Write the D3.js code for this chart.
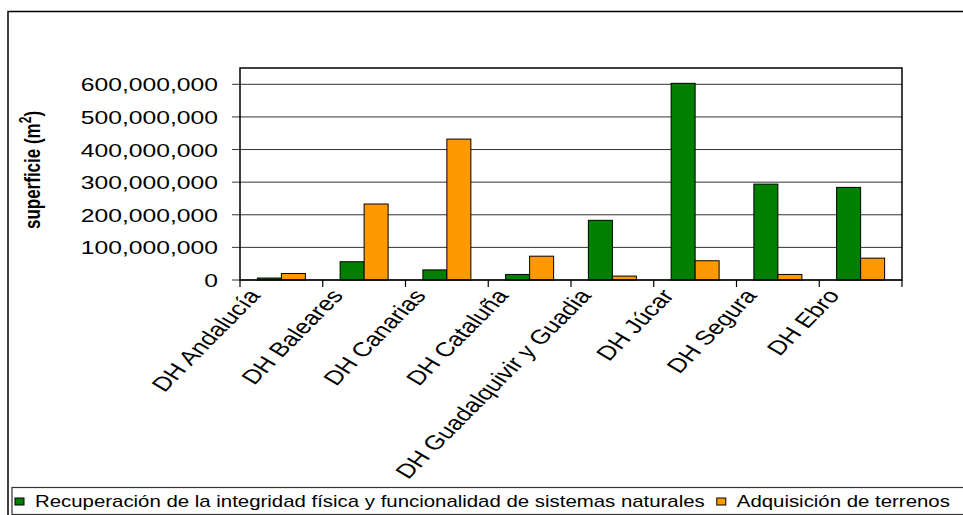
<!DOCTYPE html>
<html>
<head>
<meta charset="utf-8">
<script src="https://cdn.jsdelivr.net/npm/d3@7"></script>
<style>
    body { margin: 0; background: #fff; }
    text { font-family: "Liberation Sans", Arial, sans-serif; fill: #000; }
</style>
</head>
<body>
<div id="container"><svg></svg></div>
<script>
let width = 963;
let height = 515;

// data
let categories = ['DH Andalucía', 'DH Baleares', 'DH Canarias', 'DH Cataluña',
    'DH Guadalquivir y Guadiana', 'DH Júcar', 'DH Segura', 'DH Ebro'];
let recuperacion = [6e6, 56e6, 31e6, 17e6, 183e6, 603e6, 294e6, 284e6];
let adquisicion = [20e6, 233e6, 432e6, 73e6, 12e6, 59e6, 17e6, 67e6];
let series_names = ['Recuperación de la integridad física y funcionalidad de sistemas naturales',
    'Adquisición de terrenos'];
let series_colors = ['#008000', '#ff9900'];
let y_ticks = [0, 100e6, 200e6, 300e6, 400e6, 500e6, 600e6];
let y_max = 650e6;

// the picture is stretched sideways, text too
let sx = 1.3;

function draw_chart() {
    let plot = {'left': 240, 'right': 902, 'top': 68, 'bottom': 280};

    let svg = d3.select('#container').select('svg')
        .attr('width', width)
        .attr('height', height);

    // outer frame (runs off the right/bottom edge)
    svg.append('rect')
        .attr('x', 8).attr('y', 11.5)
        .attr('width', 1000).attr('height', 600)
        .attr('fill', 'none').attr('stroke', '#000').attr('stroke-width', 1.5);

    let x = d3.scaleBand().domain(categories).range([plot.left, plot.right]);
    let x1 = d3.scaleBand().domain([0, 1]).range([0, x.bandwidth()])
        .paddingInner(0).paddingOuter(0.724);
    let y = d3.scaleLinear().domain([0, y_max]).range([plot.bottom, plot.top]);

    // grid
    svg.append('g')
        .selectAll('line')
        .data(y_ticks)
        .enter()
        .append('line')
        .attr('x1', plot.left - 8).attr('x2', plot.right)
        .attr('y1', d => y(d)).attr('y2', d => y(d))
        .attr('stroke', '#333').attr('stroke-width', 1);

    // y labels
    svg.append('g')
        .selectAll('text')
        .data(y_ticks)
        .enter()
        .append('text')
        .attr('transform', d => 'translate(' + (plot.left - 22) + ',' + (y(d) + 7) + ') scale(' + sx + ',1)')
        .attr('text-anchor', 'end')
        .style('font-size', '19px')
        .text(d => d3.format(',')(d));

    // bars
    let data = categories.map((c, i) => ({'cat': c, 'vals': [recuperacion[i], adquisicion[i]]}));
    let groups = svg.append('g')
        .selectAll('g')
        .data(data)
        .enter()
        .append('g')
        .attr('transform', d => 'translate(' + x(d.cat) + ',0)');
    groups.selectAll('rect')
        .data(d => d.vals)
        .enter()
        .append('rect')
        .attr('x', (d, i) => x1(i))
        .attr('width', x1.bandwidth())
        .attr('y', d => y(d))
        .attr('height', d => y(0) - y(d))
        .attr('fill', (d, i) => series_colors[i])
        .attr('stroke', '#000')
        .attr('stroke-width', 1);

    // plot border
    svg.append('rect')
        .attr('x', plot.left).attr('y', plot.top)
        .attr('width', plot.right - plot.left).attr('height', plot.bottom - plot.top)
        .attr('fill', 'none').attr('stroke', '#000').attr('stroke-width', 1.5);

    // x ticks on category boundaries
    let bounds = categories.map(c => x(c)).concat([plot.right]);
    svg.append('g')
        .selectAll('line')
        .data(bounds)
        .enter()
        .append('line')
        .attr('x1', d => d).attr('x2', d => d)
        .attr('y1', plot.bottom).attr('y2', plot.bottom + 7)
        .attr('stroke', '#000').attr('stroke-width', 1.2);

    // x labels, rotated, cut when too long (like excel does)
    let ang = Math.atan(sx) * 180 / Math.PI;
    let label_y = plot.bottom + 16;
    let max_len = 236;
    svg.append('g')
        .selectAll('text')
        .data(categories)
        .enter()
        .append('text')
        .attr('transform', d => 'translate(' + (x(d) + x.bandwidth() / 2 - 20) + ',' + label_y + ') scale(' + sx + ',1) rotate(' + (-ang) + ')')
        .attr('text-anchor', 'end')
        .style('font-size', '20px')
        .text(d => d)
        .each(function(d) {
            let t = d3.select(this);
            let s = d;
            while (this.getComputedTextLength() > max_len && s.length > 1) {
                s = s.slice(0, -1);
                t.text(s);
            }
        });

    // y title
    let yt = svg.append('text')
        .attr('transform', 'translate(40,' + ((plot.top + plot.bottom) / 2 - 4) + ') scale(' + sx + ',1) rotate(-90)')
        .attr('text-anchor', 'middle')
        .style('font-size', '17px')
        .style('font-weight', 'bold');
    yt.append('tspan').text('superficie (m');
    yt.append('tspan').attr('dy', -7).style('font-size', '12px').text('2');
    yt.append('tspan').attr('dy', 7).text(')');

    // legend
    svg.append('rect')
        .attr('x', 12).attr('y', 487.5)
        .attr('width', 1000).attr('height', 27)
        .attr('fill', 'none').attr('stroke', '#333').attr('stroke-width', 1.2);
    let lx = 15;
    for (var i = 0; i < series_names.length; ++i) {
        svg.append('rect')
            .attr('x', lx).attr('y', 498)
            .attr('width', 9).attr('height', 7)
            .attr('fill', series_colors[i])
            .attr('stroke', '#000').attr('stroke-width', 1);
        let t = svg.append('text')
            .attr('transform', 'translate(' + (lx + 20) + ',506.5) scale(' + sx + ',1)')
            .style('font-size', '15.7px')
            .text(series_names[i]);
        lx = lx + 20 + t.node().getComputedTextLength() * sx + 12;
    }
}

draw_chart();
</script>
</body>
</html>
